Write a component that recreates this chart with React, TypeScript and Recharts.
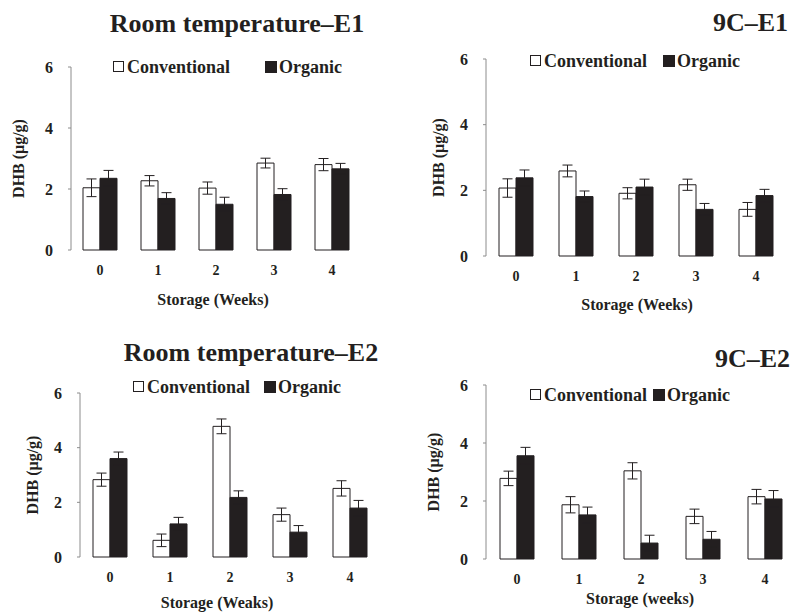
import React from 'react';
import { BarChart, Bar, XAxis, YAxis, ErrorBar, Legend } from 'recharts';

const weeks = ['0', '1', '2', '3', '4'];
const yTicks = [0, 2, 4, 6];
// ticks on the x axis sit between the week groups
const boundaryTicks = [0, 1, 2, 3, 4, 5];

// Room temperature - E1
const rtE1Conv = [2.04, 2.27, 2.03, 2.85, 2.8];
const rtE1ConvErr = [0.29, 0.17, 0.2, 0.16, 0.2];
const rtE1Org = [2.35, 1.69, 1.5, 1.82, 2.66];
const rtE1OrgErr = [0.26, 0.19, 0.23, 0.19, 0.18];

// 9C - E1
const c9E1Conv = [2.07, 2.59, 1.91, 2.17, 1.42];
const c9E1ConvErr = [0.28, 0.18, 0.17, 0.17, 0.21];
const c9E1Org = [2.38, 1.81, 2.1, 1.42, 1.84];
const c9E1OrgErr = [0.24, 0.17, 0.24, 0.18, 0.19];

// Room temperature - E2
const rtE2Conv = [2.83, 0.61, 4.78, 1.55, 2.51];
const rtE2ConvErr = [0.24, 0.23, 0.27, 0.24, 0.28];
const rtE2Org = [3.6, 1.21, 2.18, 0.91, 1.79];
const rtE2OrgErr = [0.24, 0.24, 0.24, 0.24, 0.28];

// 9C - E2
const c9E2Conv = [2.78, 1.87, 3.04, 1.47, 2.15];
const c9E2ConvErr = [0.25, 0.28, 0.28, 0.25, 0.25];
const c9E2Org = [3.56, 1.52, 0.55, 0.68, 2.07];
const c9E2OrgErr = [0.29, 0.27, 0.27, 0.27, 0.29];

const SERIF = '"Liberation Serif", "Times New Roman", serif';
const INK = '#231f20';
const AXIS = '#8c8c8c';
const CHART_W = 800;
const CHART_H = 612;
const Y_AXIS_W = 71;
const X_AXIS_H = 40;

const buildRows = (conv: number[], convErr: number[], org: number[], orgErr: number[]) =>
  weeks.map((w, i) => ({ week: w, conv: conv[i], convErr: convErr[i], org: org[i], orgErr: orgErr[i] }));

const panels = [
  {
    title: 'Room temperature–E1',
    rows: buildRows(rtE1Conv, rtE1ConvErr, rtE1Org, rtE1OrgErr),
    plot: { left: 71, right: 361, top: 67, bottom: 250 },
    titlePos: { x: 237, baseline: 33, anchor: 'middle' },
    legend: { x: 113, baseline: 73, gap: 35 },
    yLabelX: 18,
    xTitle: 'Storage (Weeks)',
    xTitleBaseline: 305,
    xTitleDx: -3,
  },
  {
    title: '9C–E1',
    rows: buildRows(c9E1Conv, c9E1ConvErr, c9E1Org, c9E1OrgErr),
    plot: { left: 486, right: 786, top: 59, bottom: 256 },
    titlePos: { x: 788, baseline: 32, anchor: 'end' },
    legend: { x: 530, baseline: 67, gap: 16 },
    yLabelX: 438,
    xTitle: 'Storage (Weeks)',
    xTitleBaseline: 310,
    xTitleDx: 1,
  },
  {
    title: 'Room temperature–E2',
    rows: buildRows(rtE2Conv, rtE2ConvErr, rtE2Org, rtE2OrgErr),
    plot: { left: 80, right: 380, top: 393, bottom: 557 },
    titlePos: { x: 251, baseline: 362, anchor: 'middle' },
    legend: { x: 133, baseline: 393, gap: 14 },
    yLabelX: 32,
    xTitle: 'Storage (Weaks)',
    xTitleBaseline: 608,
    xTitleDx: -13,
  },
  {
    title: '9C–E2',
    rows: buildRows(c9E2Conv, c9E2ConvErr, c9E2Org, c9E2OrgErr),
    plot: { left: 486, right: 796, top: 385, bottom: 559 },
    titlePos: { x: 790, baseline: 368, anchor: 'end' },
    legend: { x: 530, baseline: 401, gap: 6 },
    yLabelX: 433,
    xTitle: 'Storage (weeks)',
    xTitleBaseline: 604,
    xTitleDx: -1,
  },
];

const LegendBox = ({ gap }: { gap: number }) => (
  <div
    style={{
      display: 'flex',
      whiteSpace: 'nowrap',
      fontFamily: SERIF,
      fontWeight: 'bold',
      fontSize: 18,
      lineHeight: '18px',
      color: INK,
    }}
  >
    <span>
      <span
        style={{
          display: 'inline-block',
          width: 9,
          height: 9,
          border: `1px solid ${INK}`,
          background: '#fff',
          marginRight: 3,
          marginBottom: 1,
        }}
      />
      Conventional
    </span>
    <span style={{ marginLeft: gap }}>
      <span
        style={{
          display: 'inline-block',
          width: 12,
          height: 12,
          background: INK,
          marginRight: 2,
        }}
      />
      Organic
    </span>
  </div>
);

const Panel = ({ p }: { p: (typeof panels)[number] }) => {
  const marginLeft = p.plot.left - Y_AXIS_W;
  const margin = {
    top: p.plot.top,
    left: marginLeft,
    right: CHART_W - p.plot.right,
    bottom: CHART_H - p.plot.bottom - X_AXIS_H,
  };
  return (
    <div style={{ position: 'absolute', left: 0, top: 0 }}>
      <BarChart width={CHART_W} height={CHART_H} data={p.rows} margin={margin} barGap={0}>
        <XAxis
          xAxisId="grid"
          type="number"
          domain={[0, 5]}
          ticks={boundaryTicks}
          allowDataOverflow
          tick={false}
          height={0}
          tickSize={5}
          axisLine={{ stroke: AXIS }}
          tickLine={{ stroke: AXIS }}
        />
        <XAxis
          xAxisId="cat"
          dataKey="week"
          interval={0}
          height={X_AXIS_H}
          axisLine={false}
          tickLine={false}
          tickSize={6}
          tickMargin={9}
          tick={{ fontSize: 14, fontWeight: 'bold', fill: INK, fontFamily: SERIF }}
          label={{
            value: p.xTitle,
            position: 'insideBottom',
            offset: p.plot.bottom + X_AXIS_H - p.xTitleBaseline,
            dx: p.xTitleDx,
            style: { fontSize: 16, fontWeight: 'bold', fill: INK, fontFamily: SERIF },
          }}
        />
        <YAxis
          domain={[0, 6]}
          ticks={yTicks}
          width={Y_AXIS_W}
          tickSize={3}
          tickMargin={15}
          axisLine={{ stroke: AXIS }}
          tickLine={{ stroke: AXIS }}
          tick={{ fontSize: 16, fontWeight: 'bold', fill: INK, fontFamily: SERIF }}
          label={{
            value: 'DHB (μg/g)',
            angle: -90,
            position: 'insideLeft',
            offset: p.yLabelX - marginLeft,
            style: { fontSize: 16, fontWeight: 'bold', fill: INK, fontFamily: SERIF, textAnchor: 'middle' },
          }}
        />
        <Legend
          layout="horizontal"
          verticalAlign="middle"
          align="center"
          content={() => <LegendBox gap={p.legend.gap} />}
          wrapperStyle={{ left: p.legend.x, top: p.legend.baseline - 15, width: 'auto', height: 'auto' }}
        />
        <Bar
          xAxisId="cat"
          dataKey="conv"
          name="Conventional"
          fill="#ffffff"
          stroke={INK}
          strokeWidth={1}
          barSize={17}
          isAnimationActive={false}
        >
          <ErrorBar dataKey="convErr" width={5} stroke={INK} strokeWidth={1} isAnimationActive={false} />
        </Bar>
        <Bar
          xAxisId="cat"
          dataKey="org"
          name="Organic"
          fill={INK}
          stroke={INK}
          strokeWidth={1}
          barSize={17}
          isAnimationActive={false}
        >
          <ErrorBar dataKey="orgErr" width={5} stroke={INK} strokeWidth={1} isAnimationActive={false} />
        </Bar>
      </BarChart>
    </div>
  );
};

const Title = ({ p }: { p: (typeof panels)[number] }) => {
  const size = 26;
  const top = p.titlePos.baseline - Math.round(size * 0.837);
  const common: React.CSSProperties = {
    position: 'absolute',
    top,
    fontFamily: SERIF,
    fontWeight: 'bold',
    fontSize: size,
    lineHeight: 1,
    color: INK,
    whiteSpace: 'nowrap',
  };
  if (p.titlePos.anchor === 'middle') {
    return <div style={{ ...common, left: p.titlePos.x - 200, width: 400, textAlign: 'center' }}>{p.title}</div>;
  }
  return <div style={{ ...common, right: 792 - p.titlePos.x, textAlign: 'right' }}>{p.title}</div>;
};

export default function App() {
  return (
    <div
      style={{
        position: 'absolute',
        left: 0,
        top: 0,
        width: 792,
        height: 612,
        overflow: 'hidden',
        background: '#fff',
        fontFamily: SERIF,
      }}
    >
      {panels.map((p) => (
        <Panel key={p.title} p={p} />
      ))}
      {panels.map((p) => (
        <Title key={p.title} p={p} />
      ))}
    </div>
  );
}
